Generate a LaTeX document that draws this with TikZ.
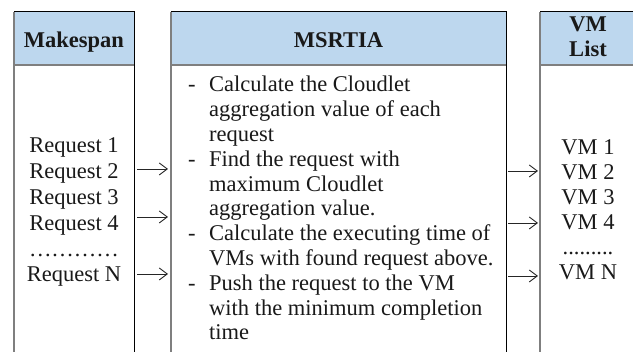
\documentclass[tikz,border=0pt]{standalone}
\usepackage{fontspec}
\setmainfont{Liberation Serif}
\usetikzlibrary{arrows.meta}
\definecolor{hdrblue}{HTML}{BDD7EE}
\definecolor{edgegray}{HTML}{7F7F7F}
\newcommand{\vmdots}{.........}

\begin{document}
\begin{tikzpicture}[x=1pt,y=-1pt,
  txt/.style={font=\fontsize{22.5}{25}\selectfont, inner sep=0pt, anchor=base, text=black!90},
  hdr/.style={txt, font=\fontsize{22.5}{25}\selectfont\bfseries},
  boxbody/.style={rectangle, inner sep=0pt, minimum height=400pt, anchor=north west},
  darkedge/.style={line width=1pt, black},
  lightedge/.style={line width=1.5pt, edgegray},
  arr/.style={-{Straight Barb[length=8pt,width=12pt,line width=0.9pt]}, line width=0.9pt, black!85},
]
\clip (0,0) rectangle (633,352);

% column boxes (open at the bottom)
\node[boxbody, minimum width=120pt] (mk) at (14,12) {};
\node[boxbody, minimum width=335pt] (ms) at (171,12) {};
\node[boxbody, minimum width=96pt]  (vl) at (540,12) {};

\foreach \b in {mk,ms,vl}{
  \fill[hdrblue] (\b.north west) rectangle ([yshift=-53pt]\b.north east);
  \draw[lightedge] ([yshift=-53pt]\b.north west) -- ([yshift=-53pt]\b.north east);
  \draw[lightedge] (\b.south west) -- (\b.north west);
  \draw[darkedge] (\b.north west) -- (\b.north east) -- (\b.south east);
}

% headers
\node[hdr] (hmk) at (74,48) {Makespan};
\node[hdr] (hms) at (338.5,48) {MSRTIA};
\node[hdr] (hvm) at (588,31.5) {VM};
\node[hdr] (hls) at (588,57) {List};

% request list
\foreach \t [count=\i] in {Request 1,Request 2,Request 3,Request 4,{…………},Request N}
  \node[txt] (rq\i) at (74,{153+25.8*(\i-1)}) {\t};

% algorithm steps
\foreach \t [count=\i] in {Calculate the Cloudlet,aggregation value of each,request,
  Find the request with,maximum Cloudlet,aggregation value.,
  Calculate the executing time of,VMs with found request above.,
  Push the request to the VM,with the minimum completion,time}
  \node[txt, anchor=base west] (st\i) at (209,{92+24.8*(\i-1)}) {\t};
\foreach \i [count=\k] in {1,4,7,9}
  \node[txt, anchor=base west] (dash\k) at (188,{92+24.8*(\i-1)}) {-};

% VM list
\foreach \t [count=\i] in {VM 1,VM 2,VM 3,VM 4,\vmdots,VM N}
  \node[txt] (vm\i) at (588,{155+25*(\i-1)}) {\t};

% connectors between the columns
\foreach \y [count=\k] in {169,217,274}{
  \coordinate (la\k) at (0,\y);
  \draw[arr] ([xshift=3pt]mk.east |- la\k) -- ([xshift=-3pt]ms.west |- la\k);
}
\foreach \y [count=\k] in {171,223,276}{
  \coordinate (ra\k) at (0,\y);
  \draw[arr] ([xshift=2pt]ms.east |- ra\k) -- ([xshift=-2pt]vl.west |- ra\k);
}
\end{tikzpicture}
\end{document}
